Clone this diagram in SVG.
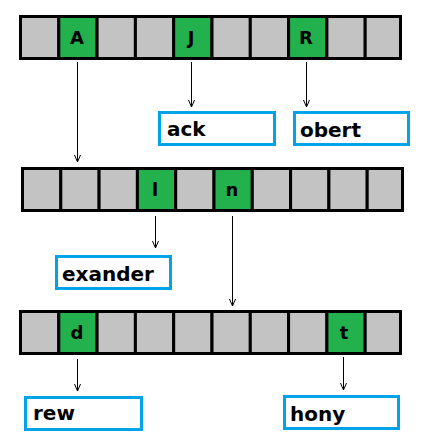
<svg xmlns="http://www.w3.org/2000/svg" width="434" height="440" viewBox="0 0 434 440">
<style>
.c{fill:#c3c3c3;stroke:#000;stroke-width:3}
.g{fill:#22b14c;stroke:#000;stroke-width:3}
.b{fill:#fff;stroke:#00a2e8;stroke-width:3}
.t{font-family:"DejaVu Sans",sans-serif;font-weight:bold;font-size:20px;fill:#000}
.l{font-family:"DejaVu Sans",sans-serif;font-weight:bold;font-size:18px;fill:#000;text-anchor:middle}
.a{stroke:#000;stroke-width:1;fill:none;marker-end:url(#ah)}
</style>
<defs>
<marker id="ah" markerUnits="userSpaceOnUse" markerWidth="10" markerHeight="10" viewBox="-9 -5 10 10" refX="0" refY="0" orient="auto">
<path d="M-7,-3 L0,0 L-7,3" fill="none" stroke="#000" stroke-width="1"/>
</marker>
</defs>
<g id="row1">
<rect class="c" x="20.5" y="16.5" width="38.3" height="42"/>
<rect class="g" x="58.8" y="16.5" width="38.3" height="42"/>
<rect class="c" x="97.1" y="16.5" width="38.3" height="42"/>
<rect class="c" x="135.4" y="16.5" width="38.3" height="42"/>
<rect class="g" x="173.7" y="16.5" width="38.3" height="42"/>
<rect class="c" x="212" y="16.5" width="38.3" height="42"/>
<rect class="c" x="250.3" y="16.5" width="38.3" height="42"/>
<rect class="g" x="288.6" y="16.5" width="38.3" height="42"/>
<rect class="c" x="326.9" y="16.5" width="38.3" height="42"/>
<rect class="c" x="365.2" y="16.5" width="35.3" height="42"/>
<text class="l" x="77" y="44">A</text>
<text class="l" x="191" y="44">J</text>
<text class="l" x="306" y="44">R</text>
</g>
<g id="row2">
<rect class="c" x="22.5" y="168.5" width="38.3" height="42"/>
<rect class="c" x="60.8" y="168.5" width="38.3" height="42"/>
<rect class="c" x="99.1" y="168.5" width="38.3" height="42"/>
<rect class="g" x="137.4" y="168.5" width="38.3" height="42"/>
<rect class="c" x="175.7" y="168.5" width="38.3" height="42"/>
<rect class="g" x="214" y="168.5" width="38.3" height="42"/>
<rect class="c" x="252.3" y="168.5" width="38.3" height="42"/>
<rect class="c" x="290.6" y="168.5" width="38.3" height="42"/>
<rect class="c" x="328.9" y="168.5" width="38.3" height="42"/>
<rect class="c" x="367.2" y="168.5" width="35.3" height="42"/>
<text class="l" x="155" y="196">l</text>
<text class="l" x="232" y="196">n</text>
</g>
<g id="row3">
<rect class="c" x="20.5" y="311.5" width="38.3" height="42"/>
<rect class="g" x="58.8" y="311.5" width="38.3" height="42"/>
<rect class="c" x="97.1" y="311.5" width="38.3" height="42"/>
<rect class="c" x="135.4" y="311.5" width="38.3" height="42"/>
<rect class="c" x="173.7" y="311.5" width="38.3" height="42"/>
<rect class="c" x="212" y="311.5" width="38.3" height="42"/>
<rect class="c" x="250.3" y="311.5" width="38.3" height="42"/>
<rect class="c" x="288.6" y="311.5" width="38.3" height="42"/>
<rect class="g" x="326.9" y="311.5" width="38.3" height="42"/>
<rect class="c" x="365.2" y="311.5" width="35.3" height="42"/>
<text class="l" x="77" y="339">d</text>
<text class="l" x="344" y="339">t</text>
</g>
<g id="ack"><rect class="b" x="159.5" y="112.5" width="115" height="32"/><text class="t" x="167" y="136">ack</text></g>
<g id="obert"><rect class="b" x="294.5" y="112.5" width="114" height="32"/><text class="t" x="300" y="137">obert</text></g>
<g id="exander"><rect class="b" x="56.5" y="256.5" width="114" height="32"/><text class="t" x="62" y="281">exander</text></g>
<g id="rew"><rect class="b" x="25.5" y="397.5" width="116" height="32"/><text class="t" x="33" y="420">rew</text></g>
<g id="hony"><rect class="b" x="284.5" y="396.5" width="114" height="32"/><text class="t" x="290" y="421">hony</text></g>
<g id="connectors">
<line class="a" x1="77.5" y1="62" x2="77.5" y2="162"/>
<line class="a" x1="191.5" y1="62" x2="191.5" y2="107"/>
<line class="a" x1="306.5" y1="62" x2="306.5" y2="107"/>
<line class="a" x1="155.5" y1="216" x2="155.5" y2="248"/>
<line class="a" x1="232.5" y1="216" x2="232.5" y2="306"/>
<line class="a" x1="77.5" y1="359" x2="77.5" y2="391"/>
<line class="a" x1="343.5" y1="357" x2="343.5" y2="390"/>
</g>
</svg>
